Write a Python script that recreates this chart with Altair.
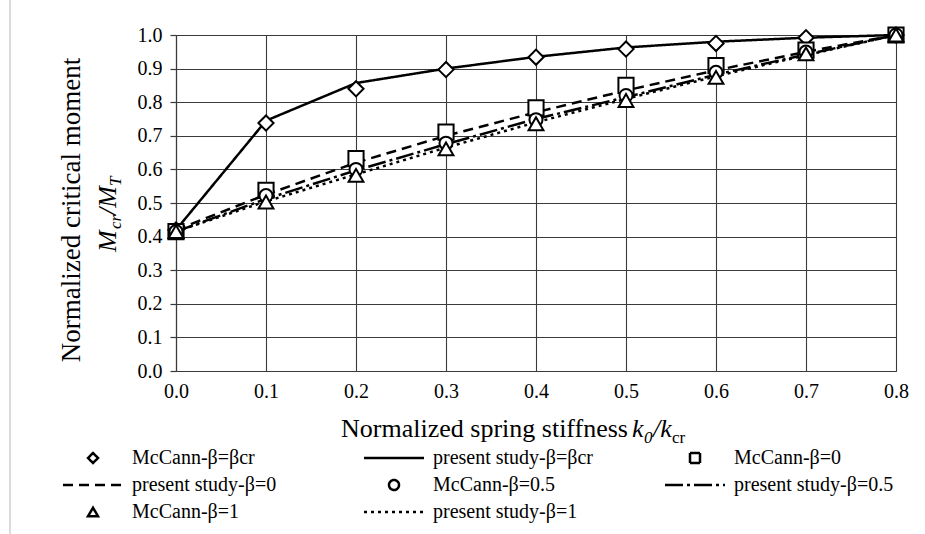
import altair as alt
import pandas as pd

# ---------------- data ----------------
k_values = [0.0, 0.1, 0.2, 0.3, 0.4, 0.5, 0.6, 0.7, 0.8]
y_ticks = [0.0, 0.1, 0.2, 0.3, 0.4, 0.5, 0.6, 0.7, 0.8, 0.9, 1.0]

mccann_bcr = [0.42, 0.738, 0.840, 0.897, 0.934, 0.958, 0.975, 0.992, 1.0]
present_bcr = [0.42, 0.745, 0.857, 0.900, 0.935, 0.963, 0.980, 0.992, 1.0]
mccann_b0 = [0.415, 0.538, 0.632, 0.711, 0.783, 0.850, 0.909, 0.955, 1.0]
present_b0 = [0.42, 0.525, 0.620, 0.700, 0.770, 0.835, 0.895, 0.950, 1.0]
mccann_b05 = [0.415, 0.522, 0.600, 0.678, 0.748, 0.820, 0.889, 0.949, 1.0]
present_b05 = [0.415, 0.512, 0.597, 0.675, 0.750, 0.815, 0.882, 0.942, 1.0]
mccann_b1 = [0.415, 0.503, 0.582, 0.661, 0.736, 0.805, 0.874, 0.944, 1.0]
present_b1 = [0.415, 0.505, 0.585, 0.665, 0.740, 0.810, 0.877, 0.940, 1.0]

series_names = [
    "McCann-β=βcr", "present study-β=βcr", "McCann-β=0", "present study-β=0",
    "McCann-β=0.5", "present study-β=0.5", "McCann-β=1", "present study-β=1",
]
series_values = [mccann_bcr, present_bcr, mccann_b0, present_b0,
                 mccann_b05, present_b05, mccann_b1, present_b1]

rows = []
for name, vals in zip(series_names, series_values):
    kind = "McCann" if name.startswith("McCann") else "present"
    for kv, v in zip(k_values, vals):
        rows.append({"k": kv, "v": v, "series": name, "s2": name, "kind": kind})
df = pd.DataFrame(rows)

# ---------------- styles ----------------
FONT = "Liberation Serif"
W, H = 720, 336
LINE = "M-6,0H6"
shape_range = ["diamond", LINE, "square", LINE, "circle", LINE, "triangle-up", LINE]
dash_range = [[1, 0], [1, 0], [1, 0], [10, 6], [1, 0], [18, 4, 3, 4], [1, 0], [3, 4]]
width_range = [2.5, 2.5, 2.5, 2.5, 2.5, 3.5, 2.5, 3.0]
GRID = "#3a3a3a"

legend = alt.Legend(
    title=None, orient="none", legendX=-93, legendY=413, columns=3,
    direction="horizontal", gridAlign="all", columnPadding=67, rowPadding=7,
    labelFont=FONT, labelFontSize=20, labelColor="black", labelLimit=400,
    symbolSize=100, symbolStrokeWidth=2, symbolStrokeColor="black",
    symbolOpacity=1, labelOffset=29, symbolOffset=0,
)

x_enc = alt.X("k:Q", scale=alt.Scale(domain=[0, 0.8], nice=False),
              axis=alt.Axis(values=k_values, format=".1f", title=None, ticks=False,
                            labelFlush=False, labelPadding=10, labelFontSize=20,
                            labelFont=FONT, labelColor="black", gridColor=GRID,
                            gridWidth=1.1, gridOpacity=1, domainColor=GRID, domainWidth=1.2))
y_enc = alt.Y("v:Q", scale=alt.Scale(domain=[0, 1], nice=False),
              axis=alt.Axis(values=y_ticks, format=".1f", title=None, tickSize=6,
                            labelFlush=False, labelPadding=8, labelFontSize=20,
                            labelFont=FONT, labelColor="black", gridColor=GRID,
                            gridWidth=1.1, gridOpacity=1, domainColor=GRID,
                            domainWidth=1.2, tickColor=GRID, tickWidth=1.2))

base = alt.Chart(df)

lines = base.transform_filter(alt.datum.kind == "present").mark_line(color="black").encode(
    x=x_enc, y=y_enc,
    strokeDash=alt.StrokeDash("series:N", scale=alt.Scale(domain=series_names, range=dash_range),
                              legend=legend),
    strokeWidth=alt.StrokeWidth("s2:N", scale=alt.Scale(domain=series_names, range=width_range),
                                legend=None),
)

# visible markers: white fill, black outline
marker_layers = []
for name, shp, sz in [("McCann-β=βcr", "diamond", 230), ("McCann-β=0", "square", 230),
                      ("McCann-β=0.5", "circle", 170), ("McCann-β=1", "triangle-up", 220)]:
    marker_layers.append(
        base.transform_filter(alt.datum.series == name).mark_point(
            shape=shp, size=sz, filled=True, fill="white", stroke="black",
            strokeWidth=2, opacity=1
        ).encode(x=x_enc, y=y_enc)
    )

# legend-bearing shape layer (invisible in the plot, drives the legend symbols)
points = base.transform_filter(alt.datum.kind == "McCann").mark_point(
    filled=False, color="black", strokeWidth=2, size=100, opacity=0
).encode(
    x=x_enc, y=y_enc,
    shape=alt.Shape("series:N", scale=alt.Scale(domain=series_names, range=shape_range),
                    legend=legend),
)

# ---------------- titles as text ----------------
one = alt.Data(values=[{}])


def txt(text, x, y, size=26, angle=0, italic=False, align="left", baseline="alphabetic"):
    return alt.Chart(one).mark_text(
        font=FONT, fontSize=size, angle=angle, align=align, baseline=baseline,
        fontStyle="italic" if italic else "normal", color="black",
    ).encode(text=alt.value(text), x=alt.value(x), y=alt.value(y))


xt_base = 437 - 35   # baseline of x title (relative to plot top)
xt_left = 632 - 176  # start of math part (relative to plot left)
titles = [
    txt("Normalized spring stiffness", xt_left - 4, xt_base, align="right"),
    txt("k", xt_left, xt_base, italic=True),
    txt("0", xt_left + 12, xt_base + 6, size=17, italic=True),
    txt("/k", xt_left + 21, xt_base, italic=True),
    txt("cr", xt_left + 40, xt_base + 6, size=17),
    # y title line 1
    txt("Normalized critical moment", 80 - 176, 210 - 35, size=27, angle=270,
        align="center", baseline="alphabetic"),
    # y title line 2 (rotated pieces, reading bottom -> top)
    txt("M", 116 - 176, 252 - 35, size=26, angle=270, italic=True),
    txt("cr", 121 - 176, 229 - 35, size=17, angle=270, italic=True),
    txt("/M", 116 - 176, 215 - 35, size=26, angle=270, italic=True),
    txt("T", 121 - 176, 186 - 35, size=17, angle=270, italic=True),
]

frame = alt.Chart(one).mark_rule(color="#cfcfcf", strokeWidth=1.5).encode(
    x=alt.value(10 - 176), y=alt.value(-35), y2=alt.value(534 - 35)
)

chart = alt.layer(frame, lines, points, *marker_layers, *titles).resolve_scale(
    shape="shared", strokeDash="shared"
).properties(
    width=W, height=H,
    autosize=alt.AutoSizeParams(type="none"),
    padding={"left": 176, "top": 35, "right": 925 - 176 - W, "bottom": 534 - 35 - H},
).configure_view(stroke=None).configure(background="white")

chart.save("out.html", embed_options={"renderer": "svg", "actions": False})
